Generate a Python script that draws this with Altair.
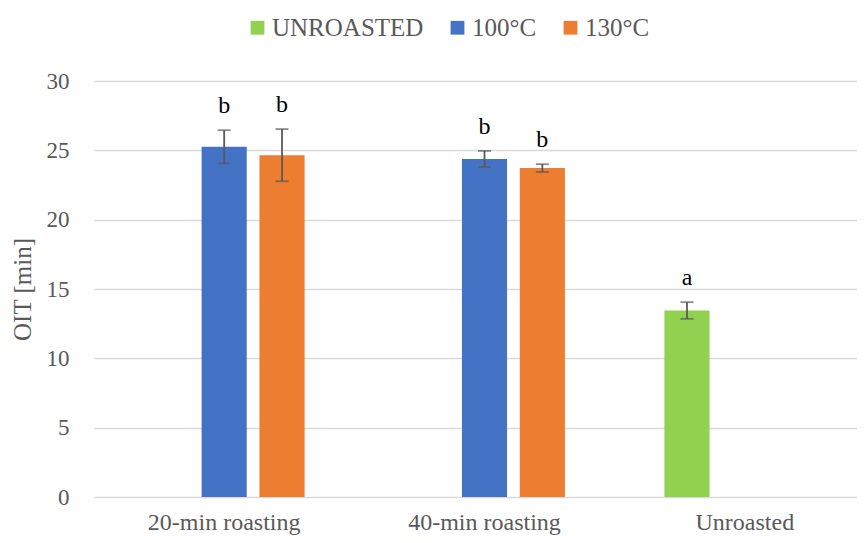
import altair as alt
import pandas as pd

groups = ["20-min roasting", "40-min roasting", "Unroasted"]
series_order = ["UNROASTED", "100°C", "130°C"]
colors = ["#92D050", "#4472C4", "#ED7D31"]

row_group = ["20-min roasting", "20-min roasting", "40-min roasting", "40-min roasting", "Unroasted"]
row_series = ["100°C", "130°C", "100°C", "130°C", "UNROASTED"]
values = [25.25, 24.65, 24.38, 23.72, 13.45]
errors = [1.2, 1.88, 0.58, 0.28, 0.6]
letters = ["b", "b", "b", "b", "a"]

df = pd.DataFrame({
    "group": row_group,
    "series": row_series,
    "value": values,
    "err": errors,
    "letter": letters,
})
df["lo"] = df["value"] - df["err"]
df["hi"] = df["value"] + df["err"]

FONT = "Liberation Serif"
GRAY = "#595959"

x = alt.X("group:N", sort=groups, title=None,
          scale=alt.Scale(domain=groups, range=[0, 781], paddingInner=0, paddingOuter=0),
          axis=alt.Axis(labelAngle=0, ticks=False, domain=False, labelPadding=13,
                        labelFontSize=24, labelColor=GRAY, labelFont=FONT))
xo = alt.XOffset("series:N", sort=series_order,
                 scale=alt.Scale(domain=series_order, paddingInner=0.22, paddingOuter=0.86))

base = alt.Chart(df).encode(x=x, xOffset=xo)

bars = base.mark_bar().encode(
    y=alt.Y("value:Q", title="OIT [min]",
            scale=alt.Scale(domain=[0, 30]),
            axis=alt.Axis(values=[0, 5, 10, 15, 20, 25, 30], ticks=False, domain=False,
                          labelPadding=25, labelFontSize=23, labelColor=GRAY, labelFont=FONT,
                          titleFontSize=25, titleColor=GRAY, titleFont=FONT, titleFontWeight="normal",
                          titlePadding=11, gridColor="#D9D9D9", gridWidth=1.3)),
    color=alt.Color("series:N", sort=series_order,
                    scale=alt.Scale(domain=series_order, range=colors),
                    legend=alt.Legend(title=None, orient="none", legendX=151, legendY=-66,
                                      direction="horizontal", symbolType="square", symbolSize=190,
                                      symbolStrokeWidth=0, labelFontSize=25, labelColor=GRAY,
                                      labelFont=FONT, labelOffset=2, columnPadding=21)),
)

rules = base.mark_rule(color=GRAY, strokeWidth=1.8).encode(
    y="lo:Q", y2="hi:Q"
)
caps_hi = base.mark_tick(color=GRAY, thickness=1.8, size=13, orient="horizontal").encode(y="hi:Q")
caps_lo = base.mark_tick(color=GRAY, thickness=1.8, size=13, orient="horizontal").encode(y="lo:Q")

labels = base.mark_text(font=FONT, fontSize=24, color="#000000", baseline="alphabetic", dy=-17).encode(
    y="hi:Q", text="letter:N"
)

chart = alt.layer(bars, rules, caps_hi, caps_lo, labels).properties(
    width=763, height=416,
    autosize=alt.AutoSizeParams(type="none"),
    padding={"left": 86, "top": 73, "right": 0, "bottom": 38},
).configure_view(stroke=None).configure_axis(labelFont=FONT, titleFont=FONT)

chart.save("out.html", embed_options={"renderer": "svg", "actions": False})
